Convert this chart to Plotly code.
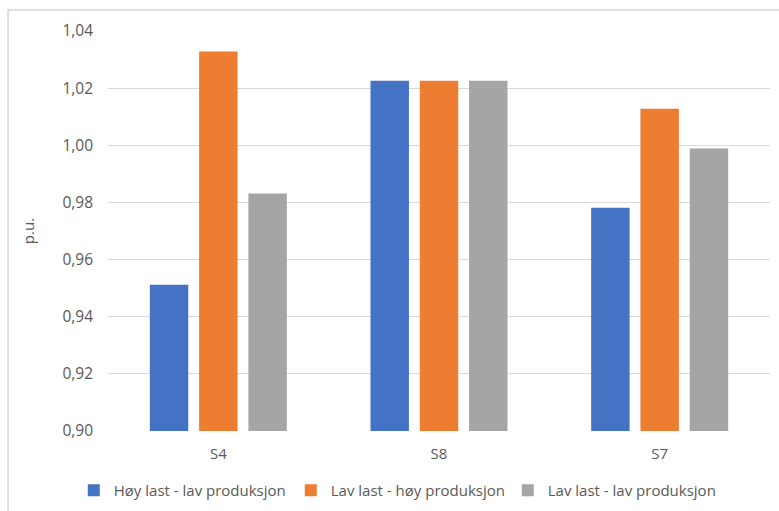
import plotly.graph_objects as go

categories = ["S4", "S8", "S7"]
series_names = ["Høy last - lav produksjon", "Lav last - høy produksjon", "Lav last - lav produksjon"]
hoy_last_lav_prod = [0.9512, 1.0226, 0.9781]
lav_last_hoy_prod = [1.0328, 1.0226, 1.0128]
lav_last_lav_prod = [0.9831, 1.0226, 0.9989]
colors = ["#4472C4", "#ED7D31", "#A5A5A5"]
axis_floor = 0.9

text_color = "#595959"
font = dict(family="Open Sans, Liberation Sans, sans-serif", size=15, color=text_color)

fig = go.Figure()
for name, vals, col in zip(series_names, [hoy_last_lav_prod, lav_last_hoy_prod, lav_last_lav_prod], colors):
    fig.add_trace(go.Bar(
        x=categories,
        y=[v - axis_floor for v in vals],
        base=axis_floor,
        name=name,
        marker=dict(color=col, line=dict(width=0)),
        hovertemplate="%{x}: %{customdata:.4f}<extra>" + name + "</extra>",
        customdata=vals,
    ))

fig.update_layout(
    width=779, height=511,
    margin=dict(l=108, r=9, t=31, b=80),
    paper_bgcolor="white", plot_bgcolor="white",
    font=font,
    separators=",.",
    barmode="group", bargap=0.33, bargroupgap=0.22,
    showlegend=True,
    legend=dict(orientation="h", x=0.44, xanchor="center",
                yref="container", y=0.04, yanchor="middle",
                font=dict(size=15, color=text_color), itemwidth=30,
                entrywidth=172, entrywidthmode="pixels", traceorder="normal"),
    xaxis=dict(showgrid=False, showline=False, ticks="", ticklabelstandoff=12,
               tickfont=dict(size=15, color=text_color)),
    yaxis=dict(range=[0.9, 1.04], dtick=0.02, tick0=0.9, tickformat=".2f",
               showgrid=True, gridcolor="#D9D9D9", gridwidth=1,
               zeroline=False, showline=False, ticks="", ticklabelstandoff=14,
               title=dict(text="p.u.", font=dict(size=15, color=text_color), standoff=24),
               tickfont=dict(size=15.5, color=text_color)),
    shapes=[dict(type="rect", xref="paper", yref="paper",
                 x0=-0.151, x1=1.5, y0=-1, y1=1.0525,
                 line=dict(color="#D6D6D6", width=1.5), fillcolor="rgba(0,0,0,0)", layer="below")],
)
fig.write_html("out.html")
